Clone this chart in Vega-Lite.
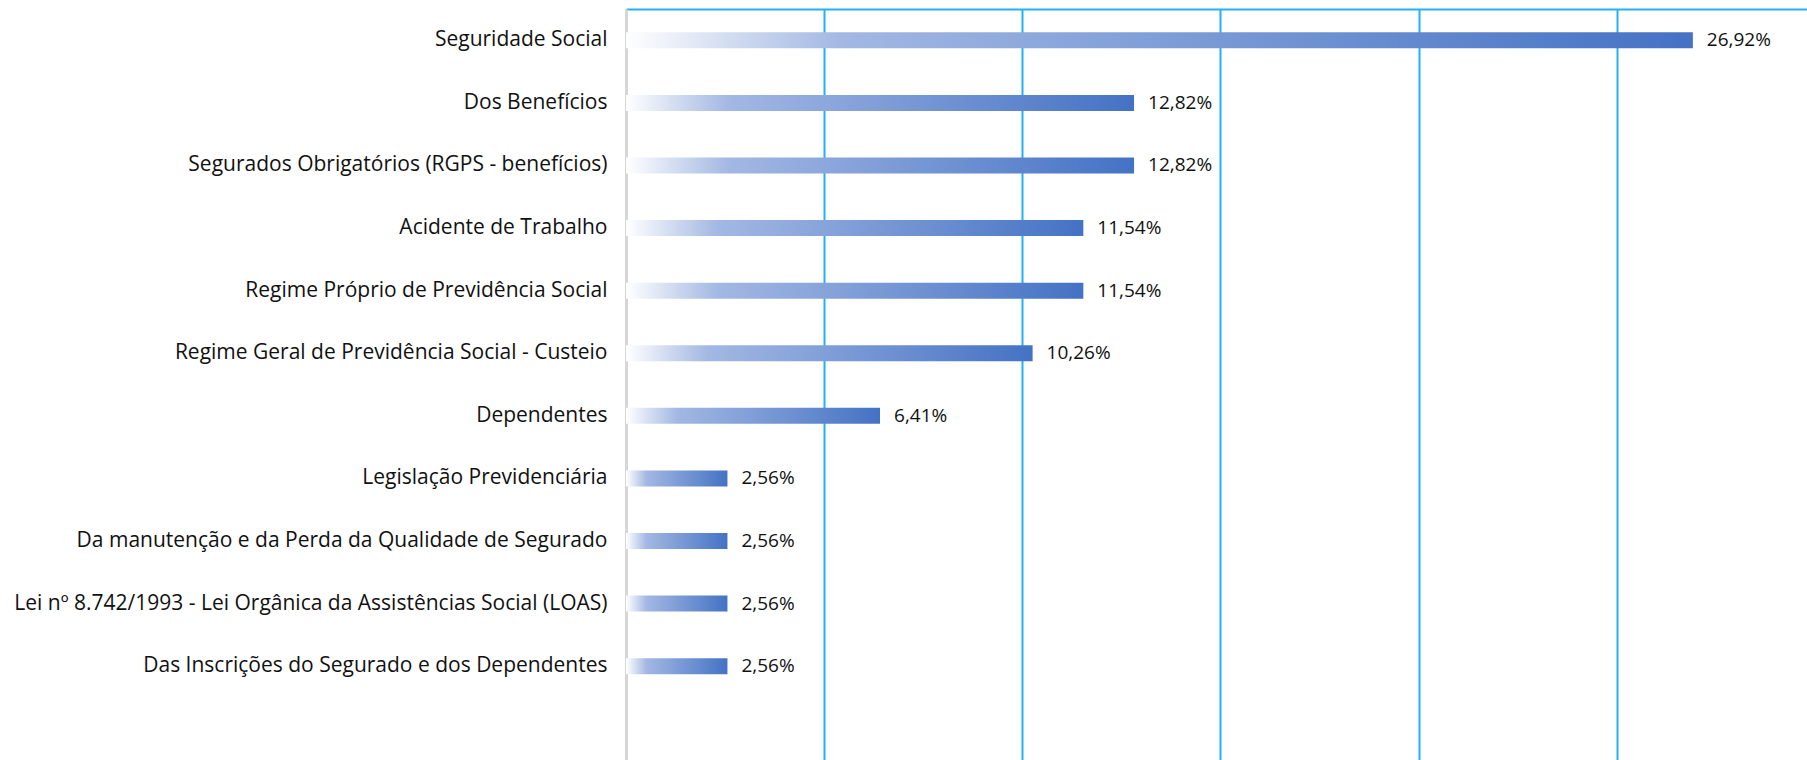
{
  "$schema": "https://vega.github.io/schema/vega-lite/v6.json",
  "width": 1181,
  "height": 751,
  "autosize": {"type": "none"},
  "padding": {"left": 626, "top": 9, "right": 0, "bottom": 0},
  "background": "white",
  "config": {
    "view": {"stroke": null},
    "font": "Open Sans"
  },
  "data": {
    "values": [
      {"tema": "Seguridade Social", "percentual": 26.92, "rotulo": "26,92%"},
      {"tema": "Dos Benefícios", "percentual": 12.82, "rotulo": "12,82%"},
      {"tema": "Segurados Obrigatórios (RGPS - benefícios)", "percentual": 12.82, "rotulo": "12,82%"},
      {"tema": "Acidente de Trabalho", "percentual": 11.54, "rotulo": "11,54%"},
      {"tema": "Regime Próprio de Previdência Social", "percentual": 11.54, "rotulo": "11,54%"},
      {"tema": "Regime Geral de Previdência Social - Custeio", "percentual": 10.26, "rotulo": "10,26%"},
      {"tema": "Dependentes", "percentual": 6.41, "rotulo": "6,41%"},
      {"tema": "Legislação Previdenciária", "percentual": 2.56, "rotulo": "2,56%"},
      {"tema": "Da manutenção e da Perda da Qualidade de Segurado", "percentual": 2.56, "rotulo": "2,56%"},
      {"tema": "Lei nº 8.742/1993 - Lei Orgânica da Assistências Social (LOAS)", "percentual": 2.56, "rotulo": "2,56%"},
      {"tema": "Das Inscrições do Segurado e dos Dependentes", "percentual": 2.56, "rotulo": "2,56%"}
    ]
  },
  "encoding": {
    "y": {
      "field": "tema",
      "type": "nominal",
      "scale": {
        "domain": [
          "Seguridade Social",
          "Dos Benefícios",
          "Segurados Obrigatórios (RGPS - benefícios)",
          "Acidente de Trabalho",
          "Regime Próprio de Previdência Social",
          "Regime Geral de Previdência Social - Custeio",
          "Dependentes",
          "Legislação Previdenciária",
          "Da manutenção e da Perda da Qualidade de Segurado",
          "Lei nº 8.742/1993 - Lei Orgânica da Assistências Social (LOAS)",
          "Das Inscrições do Segurado e dos Dependentes",
          " "
        ],
        "paddingInner": 0,
        "paddingOuter": 0
      },
      "axis": {
        "title": null,
        "ticks": false,
        "domainColor": "#d6d6d6",
        "domainWidth": 3,
        "labelPadding": 19,
        "labelFont": "Open Sans",
        "labelFontSize": 21,
        "labelColor": "#111111",
        "labelLimit": 700
      }
    },
    "x": {
      "field": "percentual",
      "type": "quantitative",
      "scale": {"domain": [0, 29.8], "nice": false, "zero": true},
      "axis": {
        "orient": "top",
        "title": null,
        "labels": false,
        "ticks": false,
        "values": [0, 5, 10, 15, 20, 25],
        "grid": true,
        "gridColor": "#20b2f2",
        "gridWidth": 2,
        "domain": true,
        "domainColor": "#20b2f2",
        "domainWidth": 2
      }
    }
  },
  "layer": [
    {
      "mark": {
        "type": "bar",
        "height": 16,
        "color": {
          "gradient": "linear",
          "x1": 0, "y1": 0, "x2": 1, "y2": 0,
          "stops": [
            {"offset": 0, "color": "#ffffff"},
            {"offset": 0.2, "color": "#a3b8e3"},
            {"offset": 1, "color": "#4472c4"}
          ]
        }
      }
    },
    {
      "mark": {
        "type": "text",
        "align": "left",
        "baseline": "middle",
        "dx": 14,
        "font": "Open Sans",
        "fontSize": 19,
        "color": "#111111"
      },
      "encoding": {
        "text": {"field": "rotulo", "type": "nominal"}
      }
    }
  ]
}
